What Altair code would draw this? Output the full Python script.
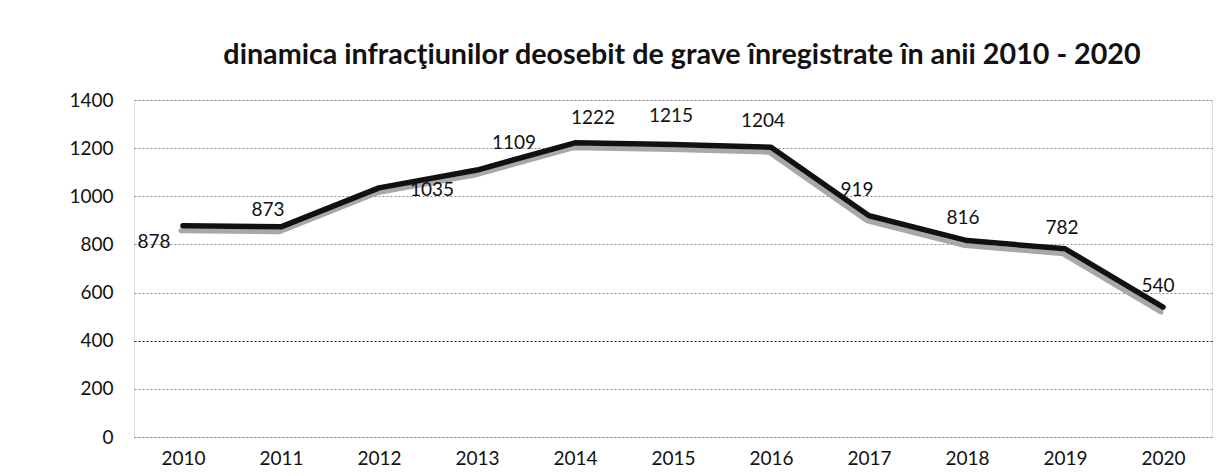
import altair as alt
import pandas as pd

years = [2010, 2011, 2012, 2013, 2014, 2015, 2016, 2017, 2018, 2019, 2020]
values = [878, 873, 1035, 1109, 1222, 1215, 1204, 919, 816, 782, 540]
y_ticks = [0, 200, 400, 600, 800, 1000, 1200, 1400]
title_text = "dinamica infracţiunilor deosebit de grave înregistrate în anii 2010 - 2020"

df = pd.DataFrame({"year": [str(y) for y in years], "value": values})

# label placement (dx, dy) relative to each point
label_offsets = {
    2010: (-29, 16), 2011: (-13, -17), 2012: (53, 2), 2013: (37, -27),
    2014: (18, -25), 2015: (-2, -29), 2016: (-8, -26), 2017: (-12, -26),
    2018: (-4, -23), 2019: (-3, -21), 2020: (-5, -21),
}

FONT = "Lato"

x_enc = alt.X("year:O", title=None,
              scale=alt.Scale(type="point", padding=0.5),
              axis=alt.Axis(labelAngle=0, ticks=False, domain=False,
                            labelFontSize=19, labelColor="#111", labelFont=FONT,
                            labelPadding=12, labelBaseline="top", grid=False))
y_enc = alt.Y("value:Q", title=None,
              scale=alt.Scale(domain=[0, 1400], nice=False),
              axis=alt.Axis(values=y_ticks, format="d", ticks=False, domain=False,
                            labelFontSize=19, labelColor="#111", labelFont=FONT,
                            labelPadding=21,
                            gridColor={"condition": {"test": "datum.value === 400", "value": "#222"},
                                       "value": "#8a8a8a"},
                            gridDash=[2, 2], gridWidth=1))

base = alt.Chart(df)

shadow = base.mark_line(color="#a8a8a8", strokeWidth=5, xOffset=-2, yOffset=5,
                        strokeCap="round", strokeJoin="round").encode(x=x_enc, y=y_enc)
line = base.mark_line(color="#111111", strokeWidth=5.5,
                      strokeCap="round", strokeJoin="round").encode(x=x_enc, y=y_enc)

layers = [shadow, line]
for yr in years:
    dx, dy = label_offsets[yr]
    layers.append(
        base.transform_filter(alt.datum.year == str(yr))
        .mark_text(font=FONT, fontSize=19, color="#111", align="center",
                   baseline="middle", dx=dx, dy=dy)
        .encode(x=alt.X("year:O", scale=alt.Scale(type="point", padding=0.5)),
                y=alt.Y("value:Q", scale=alt.Scale(domain=[0, 1400], nice=False)),
                text="value:Q")
    )

chart = alt.layer(*layers).properties(
    width=1078, height=337,
    title=alt.TitleParams(title_text, font=FONT, fontSize=28.7, fontWeight="bold",
                          color="#111", anchor="middle", dx=9, dy=36, offset=28,
                          baseline="bottom"),
    autosize=alt.AutoSizeParams(type="none"),
    padding={"left": 126, "top": 92, "right": 2, "bottom": 31},
).configure_view(stroke=None).configure(background="white")

chart.save("out.html", embed_options={"renderer": "svg", "actions": False})
